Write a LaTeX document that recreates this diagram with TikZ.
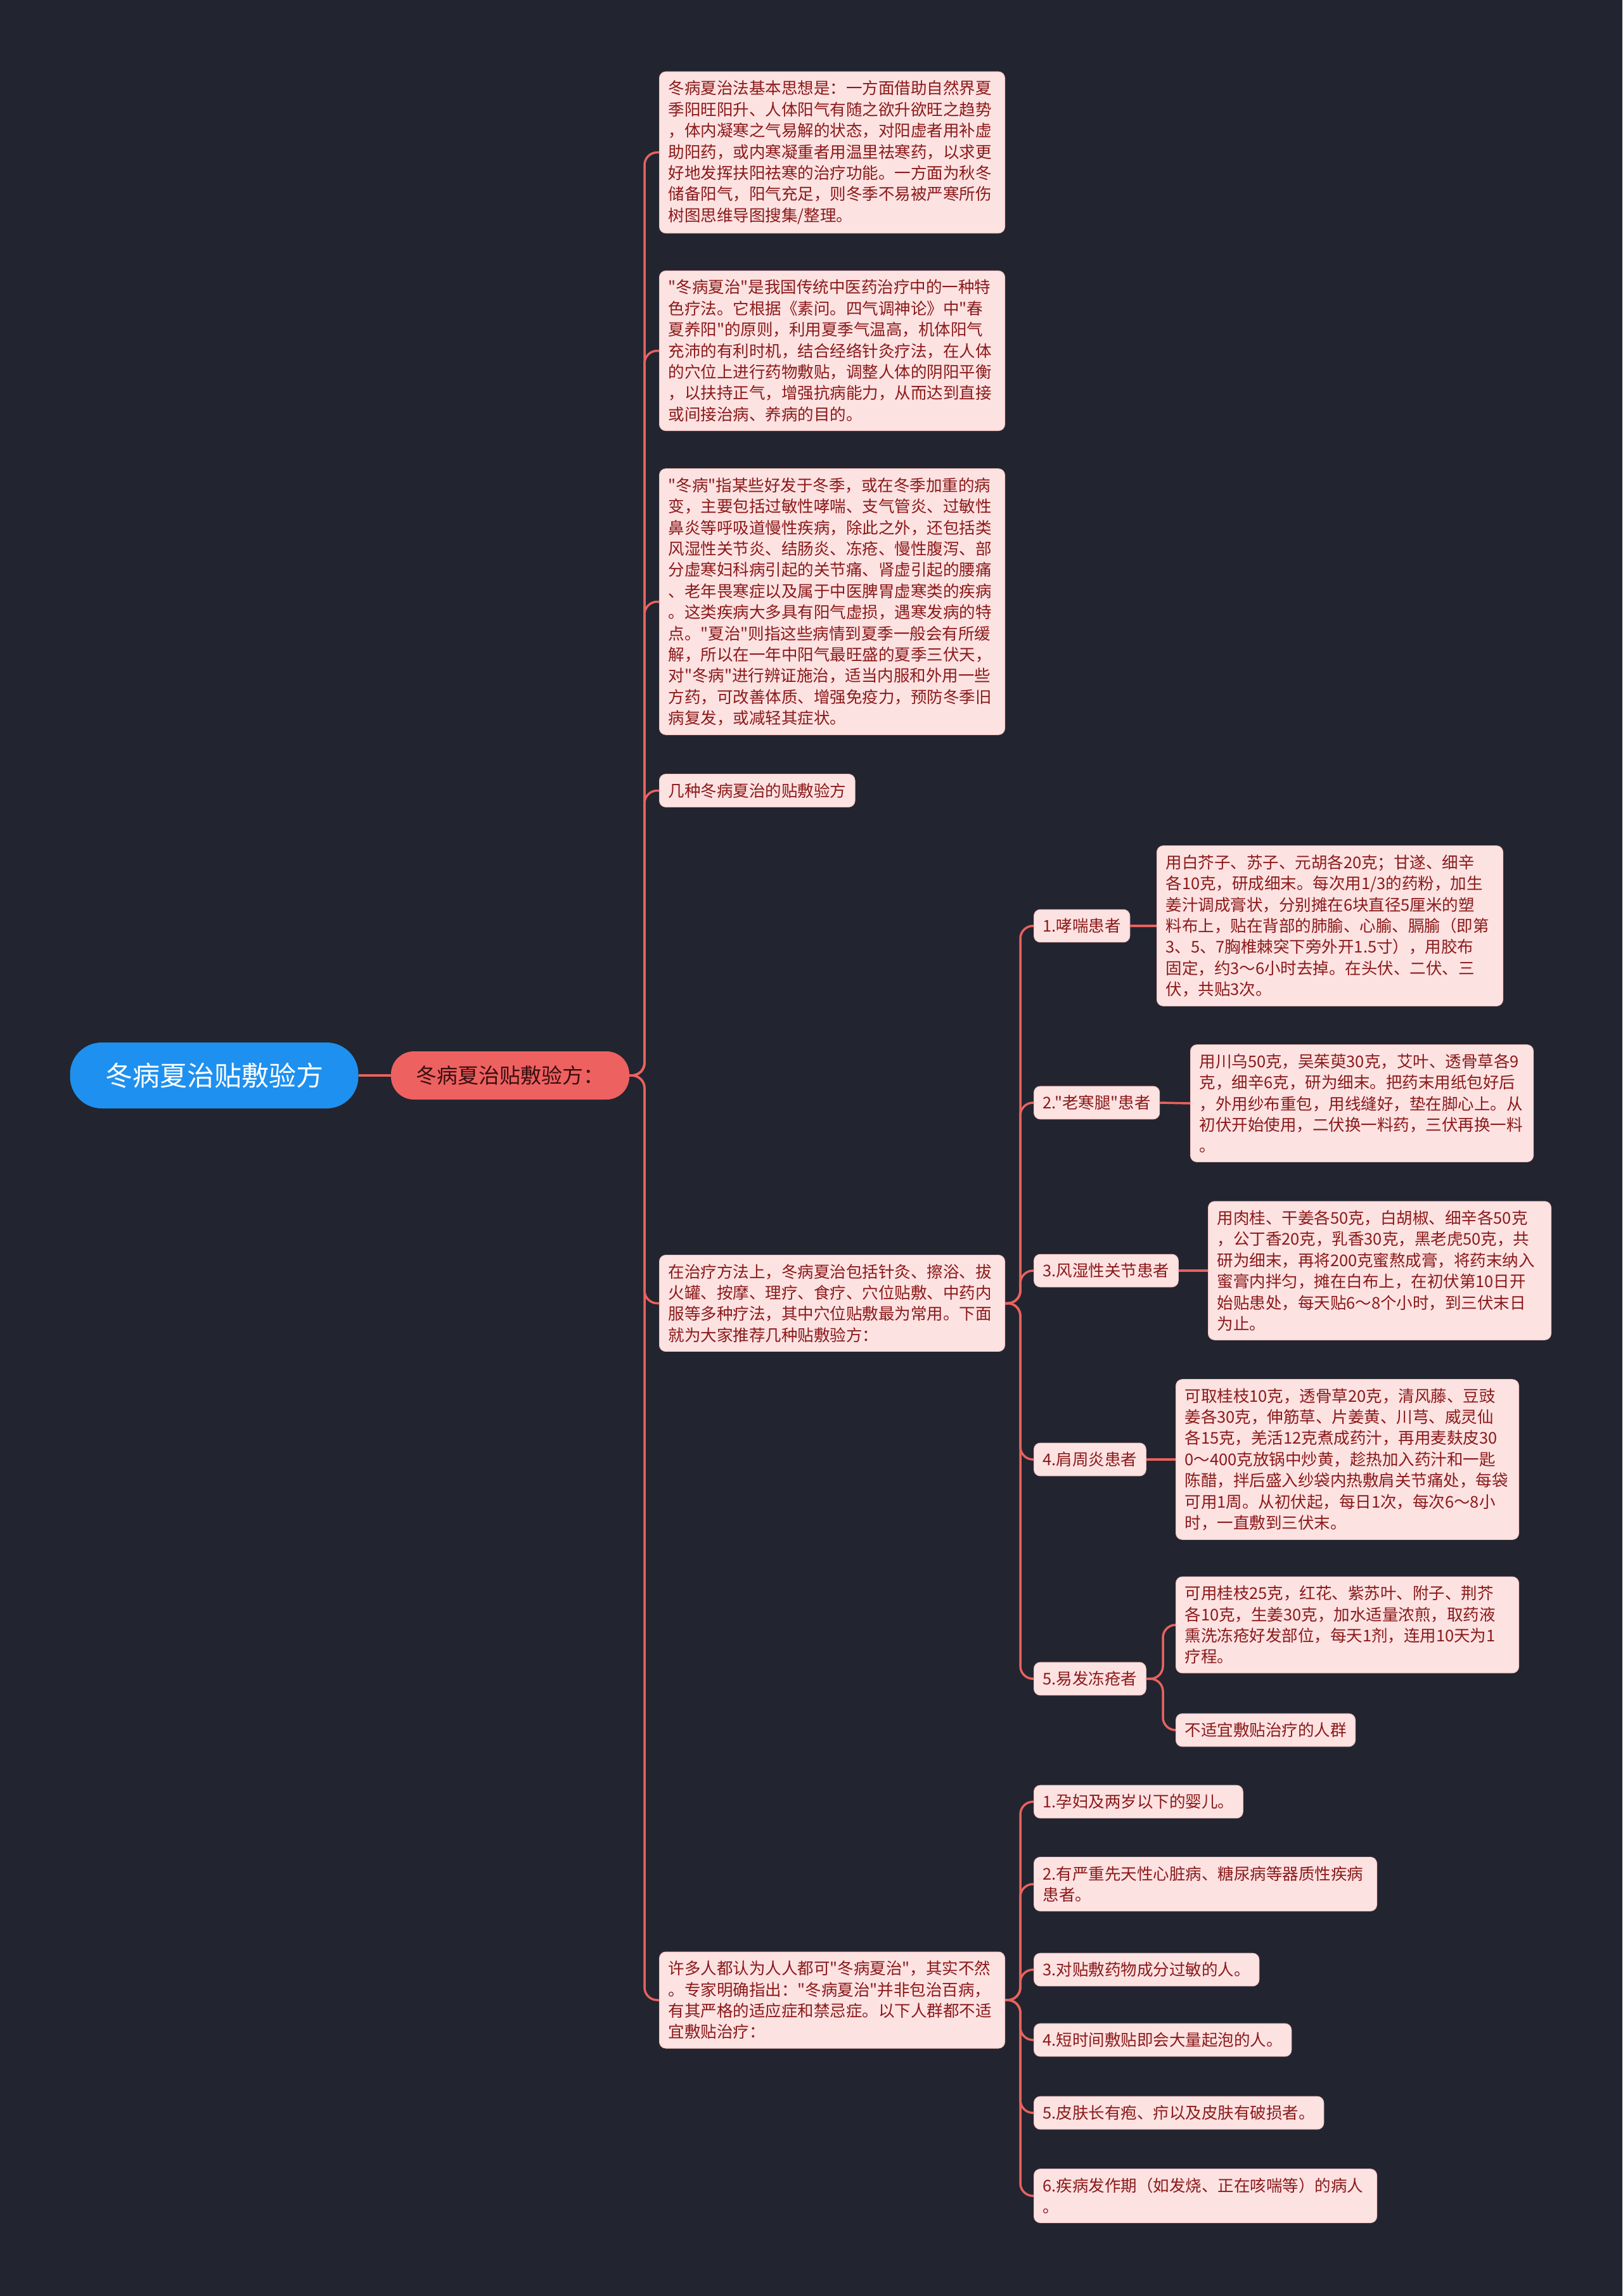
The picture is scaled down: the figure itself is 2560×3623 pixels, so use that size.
\documentclass[tikz,border=0pt]{standalone}
\usepackage{fontspec}
\setmainfont{Noto Sans CJK SC}
\newfontfamily\cjkf{Noto Sans CJK SC}
\definecolor{bgc}{HTML}{22252F}
\definecolor{boxc}{HTML}{FDE2E2}
\definecolor{boxb}{HTML}{F3C4C4}
\definecolor{txtc}{HTML}{8B1A1A}
\definecolor{linec}{HTML}{E8625F}
\definecolor{rootc}{HTML}{1E90F0}
\definecolor{midc}{HTML}{EE6161}
\definecolor{midt}{HTML}{3A0E0E}
\tikzset{
  conn/.style={draw=linec, line width=3.5pt, rounded corners=20pt},
  leaf/.style={fill=boxc, draw=boxb, line width=1pt, rounded corners=10pt, text=txtc,
    font=\cjkf\fontsize{25.5}{33.4}\selectfont, inner xsep=14pt, inner ysep=14pt, align=left, anchor=west},
  rootbox/.style={fill=rootc, text=white, rounded corners=50pt, minimum width=455pt, minimum height=104pt,
    font=\cjkf\fontsize{43}{50}\selectfont, inner sep=0pt},
  midbox/.style={fill=midc, text=midt, rounded corners=36pt, minimum width=376pt, minimum height=76pt,
    font=\cjkf\fontsize{33}{40}\selectfont, inner sep=0pt}
}
\begin{document}
\begin{tikzpicture}[x=1pt,y=-1pt]
\useasboundingbox[fill=bgc] (0,0) rectangle (2560,3623);

\node[rootbox] (root) at (338,1697) {冬病夏治贴敷验方};
\node[midbox] (s) at (805,1697) {冬病夏治贴敷验方：};

\coordinate (t1) at (1017,1697);
\coordinate (t2) at (1610,2056.5);
\coordinate (t3) at (1835,2649);
\coordinate (t4) at (1610,3156);

\node[leaf, text width=517pt] (a) at (1040,240.5) {冬病夏治法基本思想是：一方面借助自然界夏\\季阳旺阳升、人体阳气有随之欲升欲旺之趋势\\，体内凝寒之气易解的状态，对阳虚者用补虚\\助阳药，或内寒凝重者用温里祛寒药，以求更\\好地发挥扶阳祛寒的治疗功能。一方面为秋冬\\储备阳气，阳气充足，则冬季不易被严寒所伤\\树图思维导图搜集/整理。};
\node[leaf, text width=517pt] (b) at (1040,553.5) {"冬病夏治"是我国传统中医药治疗中的一种特\\色疗法。它根据《素问。四气调神论》中"春\\夏养阳"的原则，利用夏季气温高，机体阳气\\充沛的有利时机，结合经络针灸疗法，在人体\\的穴位上进行药物敷贴，调整人体的阴阳平衡\\，以扶持正气，增强抗病能力，从而达到直接\\或间接治病、养病的目的。};
\node[leaf, text width=517pt] (c) at (1040,949.5) {"冬病"指某些好发于冬季，或在冬季加重的病\\变，主要包括过敏性哮喘、支气管炎、过敏性\\鼻炎等呼吸道慢性疾病，除此之外，还包括类\\风湿性关节炎、结肠炎、冻疮、慢性腹泻、部\\分虚寒妇科病引起的关节痛、肾虚引起的腰痛\\、老年畏寒症以及属于中医脾胃虚寒类的疾病\\。这类疾病大多具有阳气虚损，遇寒发病的特\\点。"夏治"则指这些病情到夏季一般会有所缓\\解，所以在一年中阳气最旺盛的夏季三伏天，\\对"冬病"进行辨证施治，适当内服和外用一些\\方药，可改善体质、增强免疫力，预防冬季旧\\病复发，或减轻其症状。};
\node[leaf] (d) at (1040,1247.5) {几种冬病夏治的贴敷验方};
\node[leaf, text width=517pt] (e) at (1040,2056.5) {在治疗方法上，冬病夏治包括针灸、擦浴、拔\\火罐、按摩、理疗、食疗、穴位贴敷、中药内\\服等多种疗法，其中穴位贴敷最为常用。下面\\就为大家推荐几种贴敷验方：};
\node[leaf, text width=517pt] (f) at (1040,3156) {许多人都认为人人都可"冬病夏治"，其实不然\\。专家明确指出："冬病夏治"并非包治百病，\\有其严格的适应症和禁忌症。以下人群都不适\\宜敷贴治疗：};

\node[leaf] (h1) at (1631,1461) {1.哮喘患者};
\node[leaf] (h2) at (1631,1740) {2."老寒腿"患者};
\node[leaf] (h3) at (1631,2005) {3.风湿性关节患者};
\node[leaf] (h4) at (1631,2303) {4.肩周炎患者};
\node[leaf] (h5) at (1631,2649) {5.易发冻疮者};

\node[leaf, text width=518pt] (l1) at (1825,1461) {用白芥子、苏子、元胡各20克；甘遂、细辛\\各10克，研成细末。每次用1/3的药粉，加生\\姜汁调成膏状，分别摊在6块直径5厘米的塑\\料布上，贴在背部的肺腧、心腧、膈腧（即第\\3、5、7胸椎棘突下旁外开1.5寸），用胶布\\固定，约3～6小时去掉。在头伏、二伏、三\\伏，共贴3次。};
\node[leaf, text width=513pt] (l2) at (1878,1741) {用川乌50克，吴茱萸30克，艾叶、透骨草各9\\克，细辛6克，研为细末。把药末用纸包好后\\，外用纱布重包，用线缝好，垫在脚心上。从\\初伏开始使用，二伏换一料药，三伏再换一料\\。};
\node[leaf, text width=513pt] (l3) at (1906,2005) {用肉桂、干姜各50克，白胡椒、细辛各50克\\，公丁香20克，乳香30克，黑老虎50克，共\\研为细末，再将200克蜜熬成膏，将药末纳入\\蜜膏内拌匀，摊在白布上，在初伏第10日开\\始贴患处，每天贴6～8个小时，到三伏末日\\为止。};
\node[leaf, text width=513pt] (l4) at (1855,2303) {可取桂枝10克，透骨草20克，清风藤、豆豉\\姜各30克，伸筋草、片姜黄、川芎、威灵仙\\各15克，羌活12克煮成药汁，再用麦麸皮30\\0～400克放锅中炒黄，趁热加入药汁和一匙\\陈醋，拌后盛入纱袋内热敷肩关节痛处，每袋\\可用1周。从初伏起，每日1次，每次6～8小\\时，一直敷到三伏末。};
\node[leaf, text width=513pt] (l5a) at (1855,2564) {可用桂枝25克，红花、紫苏叶、附子、荆芥\\各10克，生姜30克，加水适量浓煎，取药液\\熏洗冻疮好发部位，每天1剂，连用10天为1\\疗程。};
\node[leaf] (l5b) at (1855,2730) {不适宜敷贴治疗的人群};

\node[leaf] (g1) at (1631,2843) {1.孕妇及两岁以下的婴儿。};
\node[leaf, text width=513pt] (g2) at (1631,2973) {2.有严重先天性心脏病、糖尿病等器质性疾病\\患者。};
\node[leaf] (g3) at (1631,3108) {3.对贴敷药物成分过敏的人。};
\node[leaf] (g4) at (1631,3219) {4.短时间敷贴即会大量起泡的人。};
\node[leaf] (g5) at (1631,3334) {5.皮肤长有疱、疖以及皮肤有破损者。};
\node[leaf, text width=513pt] (g6) at (1631,3465) {6.疾病发作期（如发烧、正在咳喘等）的病人\\。};

\draw[conn] (root.east) -- (s.west);
\foreach \n in {a,b,c,d,e,f} \draw[conn] (s.east) -- (t1) |- (\n.west);
\foreach \n in {h1,h2,h3,h4,h5} \draw[conn] (e.east) -- (t2) |- (\n.west);
\foreach \n in {g1,g2,g3,g4,g5,g6} \draw[conn] (f.east) -- (t4) |- (\n.west);
\draw[conn] (h1.east) -- (l1.west);
\draw[conn] (h2.east) -- (l2.west);
\draw[conn] (h3.east) -- (l3.west);
\draw[conn] (h4.east) -- (l4.west);
\foreach \n in {l5a,l5b} \draw[conn] (h5.east) -- (t3) |- (\n.west);
\end{tikzpicture}
\end{document}
